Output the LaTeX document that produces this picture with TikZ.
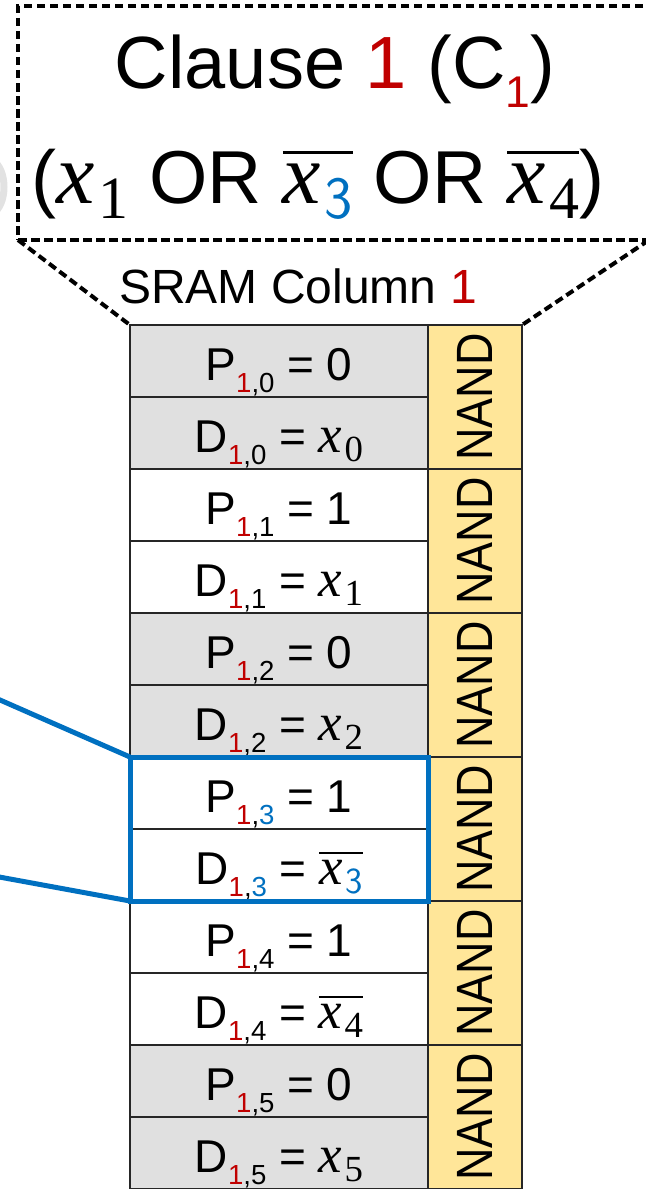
\documentclass[tikz,border=0pt]{standalone}
\usepackage{graphicx}
\usepackage{fontspec}
\setmainfont{Liberation Sans}
\newfontfamily\serifvar{Liberation Serif}
\usetikzlibrary{fit}

\definecolor{clred}{HTML}{C00000}
\definecolor{clblue}{HTML}{0070C0}
\definecolor{cellgray}{HTML}{E0E0E0}
\definecolor{nandyel}{HTML}{FFE699}
\definecolor{fadegray}{HTML}{E2E2E2}

\newcommand{\rd}[1]{\textcolor{clred}{#1}}
\newcommand{\bl}[1]{\textcolor{clblue}{#1}}
% lowered, shrunken index in the style of the slide text
\newcommand{\lowsub}[1]{\raisebox{-0.27em}{\scalebox{0.6}{#1}}}
% italic variable x with an index
\newcommand{\xv}[1]{{\serifvar\itshape\scalebox{1.15}{x}}\kern0.05em\raisebox{-0.2em}{\scalebox{0.8}{\serifvar #1}}}
% negation bar over a literal
\newcommand{\ovl}[1]{\vbox{\hrule height 0.048em \kern 0.12em \hbox{#1}}}

\tikzset{
  cellbox/.style={draw=black!85, line width=2bp, minimum width=298bp,
    minimum height=72bp, inner sep=0pt, outer sep=0pt, anchor=north west,
    text height=44bp, text depth=6bp,
    font=\fontsize{46bp}{50bp}\selectfont},
  graycell/.style={cellbox, fill=cellgray},
  whitecell/.style={cellbox, fill=white},
  nandbox/.style={draw=black!85, line width=2bp, fill=nandyel,
    minimum width=94bp, minimum height=144bp, inner sep=0pt, outer sep=0pt,
    anchor=north west, font=\fontsize{51bp}{55bp}\selectfont},
  dashline/.style={draw=black, line width=4bp, dash pattern=on 8.5bp off 4.5bp},
  selline/.style={draw=clblue, line width=5bp},
}

\newcommand{\nandtext}{\rotatebox{90}{\scalebox{0.88}[1]{NAND}}}

\begin{document}
\begin{tikzpicture}[x=1bp, y=-1bp]
  \path[use as bounding box] (0,0) rectangle (646,1189);
  \clip (0,0) rectangle (646,1189);

  % faded stroke at the left margin
  \draw[fadegray, line width=7bp] (-8,160) .. controls (8,168) and (8,206) .. (-8,214);

  % clause header box
  \node[dashline, minimum width=631bp, minimum height=234bp, inner sep=0pt,
        outer sep=0pt, anchor=north west] (clause) at (18,6) {};
  \node[font=\fontsize{74bp}{78bp}\selectfont, anchor=base, inner sep=0pt]
    (title) at (335,88) {Clause \rd{1} (C\lowsub{\rd{1}})};
  \node[font=\fontsize{75bp}{79bp}\selectfont, anchor=base, inner sep=0pt]
    (expr) at (318,203)
    {(\xv{1} OR \ovl{\xv{\bl{\sffamily 3}}} OR \ovl{\xv{4}})};
  \node[font=\fontsize{48bp}{52bp}\selectfont, anchor=base, inner sep=0pt]
    (colname) at (298,303) {SRAM Column \rd{1}};

  % SRAM cells: predicate / data pairs
  \node[graycell]  (p0) at (130,325)  {P\lowsub{\rd{1},0} = 0};
  \node[graycell]  (d0) at (130,397)  {D\lowsub{\rd{1},0} = \xv{0}};
  \node[whitecell] (p1) at (130,469)  {P\lowsub{\rd{1},1} = 1};
  \node[whitecell] (d1) at (130,541)  {D\lowsub{\rd{1},1} = \xv{1}};
  \node[graycell]  (p2) at (130,613)  {P\lowsub{\rd{1},2} = 0};
  \node[graycell]  (d2) at (130,685)  {D\lowsub{\rd{1},2} = \xv{2}};
  \node[whitecell] (p3) at (130,757)  {P\lowsub{\rd{1},\bl{3}} = 1};
  \node[whitecell] (d3) at (130,829)  {D\lowsub{\rd{1},\bl{3}} = \ovl{\xv{\bl{\sffamily 3}}}};
  \node[whitecell] (p4) at (130,901)  {P\lowsub{\rd{1},4} = 1};
  \node[whitecell] (d4) at (130,973)  {D\lowsub{\rd{1},4} = \ovl{\xv{4}}};
  \node[graycell]  (p5) at (130,1045) {P\lowsub{\rd{1},5} = 0};
  \node[graycell]  (d5) at (130,1117) {D\lowsub{\rd{1},5} = \xv{5}};

  % NAND gates, one per pair
  \node[nandbox] (n0) at (428,325)  {\nandtext};
  \node[nandbox] (n1) at (428,469)  {\nandtext};
  \node[nandbox] (n2) at (428,613)  {\nandtext};
  \node[nandbox] (n3) at (428,757)  {\nandtext};
  \node[nandbox] (n4) at (428,901)  {\nandtext};
  \node[nandbox] (n5) at (428,1045) {\nandtext};

  % zoom-out lines from the column to the clause box
  \draw[dashline] (clause.south west) -- (p0.north west);
  \draw[dashline] (clause.south east) -- (n0.north east);

  % highlighted literal x3-bar
  \node[selline, fit=(p3)(d3), inner sep=0pt, outer sep=0pt] (sel) {};
  \coordinate (callout1) at (-10,695.6);
  \coordinate (callout2) at (-10,875.3);
  \draw[selline] (callout1) -- (sel.north west);
  \draw[selline] (callout2) -- (sel.south west);
\end{tikzpicture}
\end{document}
